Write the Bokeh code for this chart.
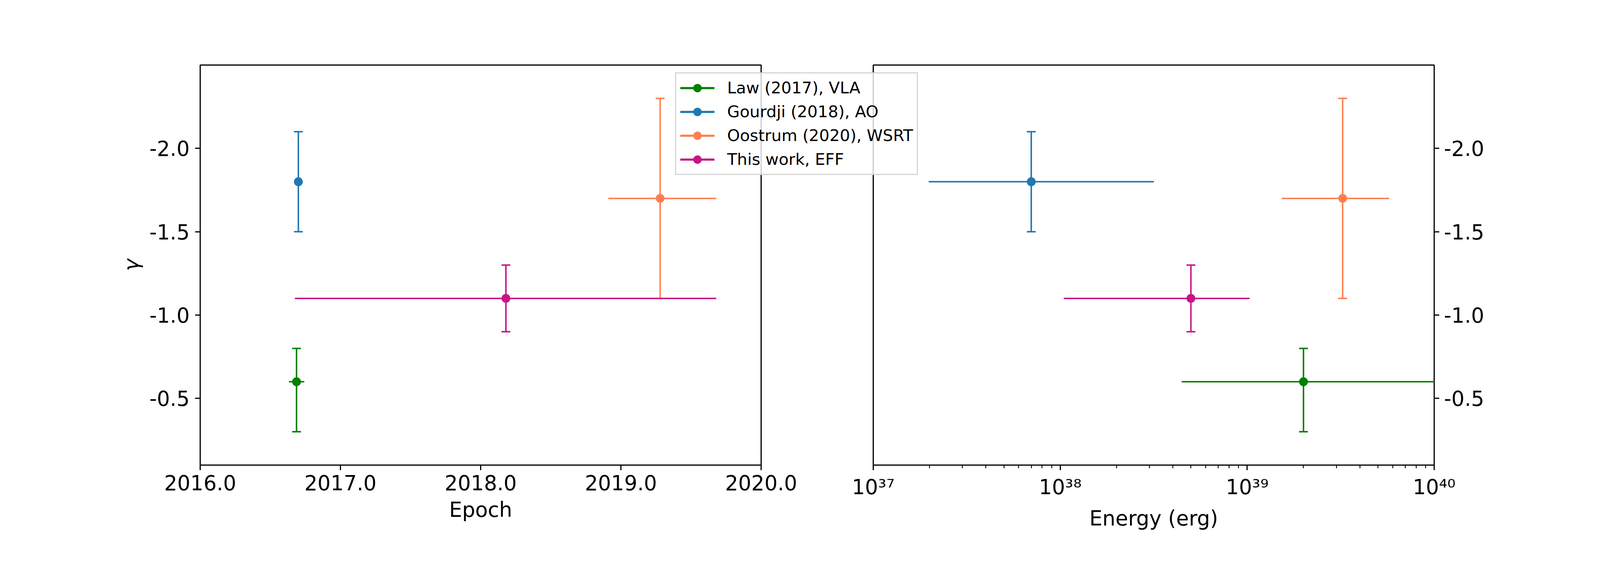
from bokeh.plotting import figure
from bokeh.models import (Range1d, FixedTicker, PrintfTickFormatter, CustomJSTickFormatter,
                          Legend, LegendItem, Row, ColumnDataSource)
from bokeh.embed import file_html
from bokeh.resources import INLINE

# ---------------- data ----------------
labels = ["Law (2017), VLA", "Gourdji (2018), AO", "Oostrum (2020), WSRT", "This work, EFF"]
colors = ["green", "#1f77b4", "coral", "mediumvioletred"]

epoch = [2016.687, 2016.70, 2019.28, 2018.18]
epoch_lo = [2016.633, 2016.70, 2018.91, 2016.675]
epoch_hi = [2016.742, 2016.70, 2019.68, 2019.68]

gamma = [-0.6, -1.8, -1.7, -1.1]
gamma_lo = [-0.8, -2.1, -2.3, -1.3]
gamma_hi = [-0.3, -1.5, -1.1, -0.9]

energy = [2.0e39, 7.0e37, 3.24e39, 5.0e38]
energy_lo = [4.46e38, 1.98e37, 1.53e39, 1.045e38]
energy_hi = [1.1e40, 3.17e38, 5.74e39, 1.03e39]

epoch_ticks = [2016, 2017, 2018, 2019, 2020]
gamma_ticks = [-2.0, -1.5, -1.0, -0.5]
energy_ticks = [1e37, 1e38, 1e39, 1e40]
energy_minor = [m * 10.0 ** k for k in (37, 38, 39) for m in range(2, 10)]

# ---------------- layout / style ----------------
H = 1359
WA, WB = 2092, 1984
TOP, BOTTOM = 166, 168
FONT = "DejaVu Sans"
FS = "52.8px"
LW = 3.8
SPINE = 3.0
MK = 22.6


def style_axis(ax, label_standoff, axis_standoff):
    ax.axis_line_color = None
    ax.major_tick_line_color = "black"
    ax.major_tick_line_width = SPINE
    ax.major_tick_out = 13
    ax.major_tick_in = 0
    ax.minor_tick_line_color = None
    ax.major_label_text_font = FONT
    ax.major_label_text_font_size = FS
    ax.major_label_text_color = "black"
    ax.major_label_standoff = label_standoff
    ax.axis_label_text_font = FONT
    ax.axis_label_text_font_size = FS
    ax.axis_label_text_font_style = "normal"
    ax.axis_label_text_color = "black"
    ax.axis_label_standoff = axis_standoff


def base_fig(width, **kw):
    p = figure(width=width, height=H, output_backend="svg", toolbar_location=None, **kw)
    p.grid.visible = False
    p.outline_line_color = "black"
    p.outline_line_width = SPINE
    p.background_fill_color = "white"
    p.border_fill_color = "white"
    return p


# left panel
pA = base_fig(WA, x_range=Range1d(2016, 2020), y_range=Range1d(-0.1, -2.5),
              min_border_left=512, min_border_right=144,
              min_border_top=TOP, min_border_bottom=BOTTOM)
# right panel
pB = base_fig(WB, x_range=Range1d(1e37, 1e40), y_range=Range1d(-0.1, -2.5),
              x_axis_type="log", y_axis_location="right",
              min_border_left=143, min_border_right=405,
              min_border_top=TOP, min_border_bottom=BOTTOM)
# legend overlay (transparent, stacked over both panels); its ranges keep
# the legend-only glyphs out of view so only the legend is drawn there
pC = figure(width=700, height=620, output_backend="svg", toolbar_location=None,
            title=None, x_axis_location=None, y_axis_location=None,
            min_border_left=0, min_border_right=0, min_border_top=TOP, min_border_bottom=BOTTOM,
            x_range=Range1d(0, 1), y_range=Range1d(0, 1))
pC.grid.visible = False
pC.outline_line_color = None
pC.background_fill_color = None
pC.border_fill_color = None

items = []
for i in range(len(labels)):
    c = colors[i]
    srcA = ColumnDataSource(dict(x=[epoch[i]], xl=[epoch_lo[i]], xh=[epoch_hi[i]],
                                 y=[gamma[i]], yl=[gamma_lo[i]], yh=[gamma_hi[i]]))
    srcB = ColumnDataSource(dict(x=[energy[i]], xl=[energy_lo[i]], xh=[energy_hi[i]],
                                 y=[gamma[i]], yl=[gamma_lo[i]], yh=[gamma_hi[i]]))
    for p, src in ((pA, srcA), (pB, srcB)):
        p.segment(x0="xl", y0="y", x1="xh", y1="y", source=src, line_color=c, line_width=LW)
        p.segment(x0="x", y0="yl", x1="x", y1="yh", source=src, line_color=c, line_width=LW)
        p.scatter(x="x", y="yl", source=src, marker="dash", size=MK, line_color=c, line_width=LW)
        p.scatter(x="x", y="yh", source=src, marker="dash", size=MK, line_color=c, line_width=LW)
        p.scatter(x="x", y="y", source=src, marker="circle", size=MK,
                  fill_color=c, line_color=None)
    # legend glyphs in the overlay (same series row, outside the overlay's ranges)
    srcC = ColumnDataSource(dict(x=[epoch[i]], xl=[epoch_lo[i]], xh=[epoch_hi[i]], y=[gamma[i]]))
    hs = pC.segment(x0="xl", y0="y", x1="xh", y1="y", source=srcC, line_color=c, line_width=5.6)
    mk = pC.scatter(x="x", y="y", source=srcC, marker="circle", fill_color=c, line_color=None)
    items.append(LegendItem(label=labels[i], renderers=[hs, mk]))

# axes of left panel
pA.xaxis.ticker = FixedTicker(ticks=epoch_ticks)
pA.xaxis.formatter = PrintfTickFormatter(format="%.1f")
pA.yaxis.ticker = FixedTicker(ticks=gamma_ticks)
pA.yaxis.formatter = PrintfTickFormatter(format="%.1f")
pA.xaxis.axis_label = "Epoch"
pA.yaxis.axis_label = "\u03b3"
for ax in pA.xaxis:
    style_axis(ax, 12, 16)
for ax in pA.yaxis:
    style_axis(ax, 14, 12)
    ax.axis_label_text_font_style = "italic"

# axes of right panel
pB.xaxis.ticker = FixedTicker(ticks=energy_ticks, minor_ticks=energy_minor)
pB.xaxis.formatter = CustomJSTickFormatter(code="""
const sup = {'0':'\\u2070','1':'\\u00b9','2':'\\u00b2','3':'\\u00b3','4':'\\u2074',
             '5':'\\u2075','6':'\\u2076','7':'\\u2077','8':'\\u2078','9':'\\u2079','-':'\\u207b'};
const e = Math.round(Math.log10(tick));
return '10' + String(e).split('').map(c => sup[c]).join('');
""")
pB.yaxis.ticker = FixedTicker(ticks=gamma_ticks)
pB.yaxis.formatter = PrintfTickFormatter(format="%.1f")
pB.xaxis.axis_label = "Energy (erg)"
for ax in pB.xaxis:
    style_axis(ax, 12, 16)
    ax.minor_tick_line_color = "black"
    ax.minor_tick_line_width = 2.3
    ax.minor_tick_out = 8
    ax.minor_tick_in = 0
for ax in pB.yaxis:
    style_axis(ax, 12, 12)

legend = Legend(items=items, location="top_left", orientation="vertical",
                glyph_width=88, glyph_height=54, label_standoff=33, spacing=7,
                padding=10, margin=3,
                label_text_font=FONT, label_text_font_size="41.5px", label_text_color="black",
                border_line_color="#cccccc", border_line_alpha=0.8, border_line_width=3.6,
                background_fill_color="white", background_fill_alpha=0.8)
pC.add_layout(legend)
pC.styles = {"position": "absolute", "left": "1724.5px", "top": "15.6px", "z-index": "10"}

layout = Row(children=[pA, pB, pC], styles={"position": "relative"})

with open("out.html", "w", encoding="utf-8") as f:
    f.write(file_html(layout, INLINE))
